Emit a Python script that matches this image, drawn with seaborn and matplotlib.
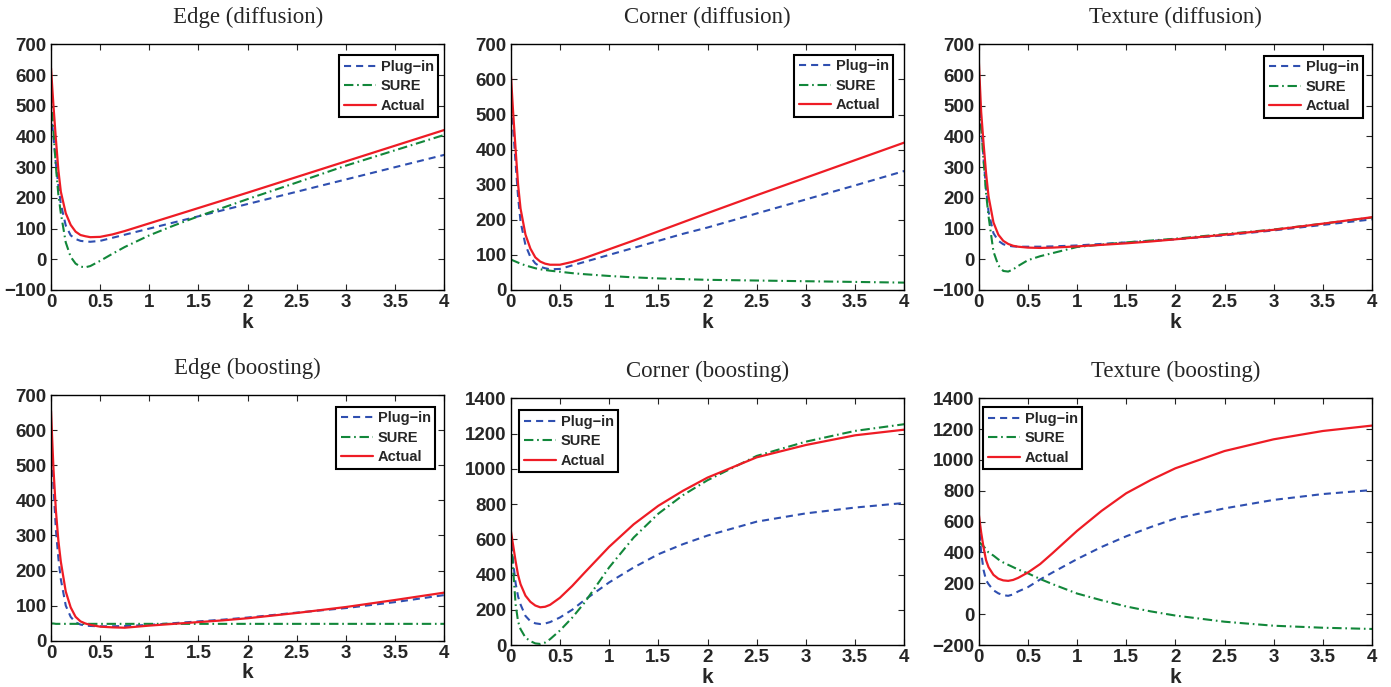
import numpy as np
import pandas as pd
import matplotlib
matplotlib.use("Agg")
import matplotlib.pyplot as plt
import seaborn as sns

sns.set_style("ticks")
plt.rcParams["font.family"] = ["Liberation Sans", "DejaVu Sans"]

# ---------------- data ----------------
k = [0, 0.025, 0.05, 0.075, 0.1, 0.15, 0.2, 0.25, 0.3, 0.35, 0.4, 0.5, 0.625, 0.75,
     1, 1.25, 1.5, 1.75, 2, 2.5, 3, 3.5, 4]

series_names = ["Plug\u2212in", "SURE", "Actual"]

titles = ["Edge (diffusion)", "Corner (diffusion)", "Texture (diffusion)",
          "Edge (boosting)", "Corner (boosting)", "Texture (boosting)"]

edge_diff_plugin = [480, 400, 310, 240, 180, 110, 78, 66, 60, 58, 57, 60, 70, 80, 100, 120, 140, 160, 180, 220, 260, 300, 340]
edge_diff_sure = [540, 420, 300, 210, 150, 55, 8, -14, -24, -26, -22, -5, 18, 40, 78, 110, 140, 168, 196, 250, 305, 355, 405]
edge_diff_actual = [622, 500, 390, 290, 220, 150, 112, 90, 79, 75, 72, 73, 81, 92, 117, 142, 167, 192, 217, 268, 319, 370, 421]

corner_diff_plugin = [560, 460, 360, 265, 195, 128, 94, 76, 66, 62, 59, 60, 70, 80, 100, 120, 140, 160, 178, 218, 258, 298, 339]
corner_diff_sure = [87, 84, 81, 78, 75, 70, 66, 62, 59, 57, 55, 52, 48, 45, 40, 36, 33, 31, 29, 27, 25, 23, 21]
corner_diff_actual = [622, 505, 400, 300, 232, 158, 118, 93, 81, 75, 72, 72, 80, 91, 116, 141, 167, 193, 219, 270, 320, 370, 420]

texture_diff_plugin = [600, 440, 325, 230, 155, 85, 60, 49, 44, 42, 41, 41, 41, 42, 45, 50, 55, 60, 65, 78, 94, 112, 130]
texture_diff_sure = [560, 430, 320, 215, 140, 25, -20, -38, -40, -33, -22, -3, 10, 20, 40, 48, 55, 61, 67, 82, 97, 116, 136]
texture_diff_actual = [654, 480, 375, 280, 205, 120, 80, 60, 50, 44, 41, 38, 37, 38, 42, 47, 52, 58, 65, 80, 96, 116, 137]

edge_boost_plugin = [590, 440, 315, 235, 175, 100, 68, 52, 46, 43, 42, 41, 41, 42, 45, 50, 55, 60, 66, 80, 93, 110, 130]
edge_boost_sure = [49, 49, 48, 48, 48, 48, 48, 48, 48, 48, 48, 48, 48, 48, 48, 48, 48, 48, 48, 48, 48, 48, 48]
edge_boost_actual = [655, 490, 370, 285, 225, 140, 95, 68, 55, 49, 45, 40, 38, 37, 43, 48, 53, 58, 64, 79, 96, 116, 137]

corner_boost_plugin = [640, 470, 350, 275, 230, 165, 135, 123, 119, 122, 130, 156, 200, 255, 355, 440, 515, 572, 621, 700, 747, 780, 806]
corner_boost_sure = [620, 430, 230, 133, 90, 42, 22, 9, 6, 14, 33, 82, 155, 240, 440, 610, 745, 850, 935, 1073, 1154, 1215, 1253]
corner_boost_actual = [653, 565, 475, 397, 345, 280, 245, 224, 214, 217, 228, 268, 335, 410, 557, 685, 790, 875, 950, 1065, 1135, 1190, 1222]

texture_boost_plugin = [600, 400, 285, 220, 195, 155, 135, 123, 119, 128, 147, 175, 225, 270, 357, 436, 505, 565, 620, 686, 741, 779, 805]
texture_boost_sure = [470, 455, 440, 420, 400, 380, 355, 335, 320, 305, 290, 265, 228, 195, 134, 90, 50, 18, -9, -49, -75, -88, -96]
texture_boost_actual = [653, 530, 430, 350, 305, 255, 230, 219, 216, 222, 235, 270, 325, 395, 540, 670, 784, 870, 946, 1058, 1134, 1188, 1223]

panels = [
    (edge_diff_plugin, edge_diff_sure, edge_diff_actual),
    (corner_diff_plugin, corner_diff_sure, corner_diff_actual),
    (texture_diff_plugin, texture_diff_sure, texture_diff_actual),
    (edge_boost_plugin, edge_boost_sure, edge_boost_actual),
    (corner_boost_plugin, corner_boost_sure, corner_boost_actual),
    (texture_boost_plugin, texture_boost_sure, texture_boost_actual),
]

ylims = [(-100, 700, 100), (0, 700, 100), (-100, 700, 100),
         (0, 700, 100), (0, 1400, 200), (-200, 1400, 200)]
xticks = [0, 0.5, 1, 1.5, 2, 2.5, 3, 3.5, 4]
xticklabels = ["0", "0.5", "1", "1.5", "2", "2.5", "3", "3.5", "4"]

# ---------------- style ----------------
colors = ["#2f4fb0", "#12873a", "#ee1c25"]
styles = [(0, (3.4, 2.4)), (0, (4.5, 1.8, 0.8, 1.8)), "-"]
lws = [1.5, 1.5, 1.6]

W, H = 1391, 687
fig = plt.figure(figsize=(W / 100, H / 100), dpi=100)

# axes boxes in pixels: left, top, right, bottom
boxes = [
    (51, 44.3, 444.3, 290),
    (510.7, 44.3, 904.3, 290),
    (978.7, 44.3, 1372, 290),
    (51, 395, 444.3, 640.7),
    (510.7, 398.3, 904.3, 645),
    (978.7, 398.3, 1372, 645),
]
# legend placement: (loc, x inset px, y inset px)
legpos = [("upper right", 6, 11), ("upper right", 11, 10.7), ("upper right", 8.7, 11.4),
          ("upper right", 9, 11.7), ("upper left", 8.6, 12), ("upper left", 4.6, 9)]

for i, (vals, title, (y0, y1, ys)) in enumerate(zip(panels, titles, ylims)):
    l, t, r, b = boxes[i]
    ax = fig.add_axes([l / W, 1 - b / H, (r - l) / W, (b - t) / H])
    for j, name in enumerate(series_names):
        sns.lineplot(x=k, y=vals[j], ax=ax, color=colors[j], linestyle=styles[j],
                     linewidth=lws[j], label=name, legend=False)
    ax.set_xlim(0, 4)
    ax.set_ylim(y0, y1)
    ax.set_xticks(xticks)
    ax.set_xticklabels(xticklabels)
    ax.set_yticks(np.arange(y0, y1 + 1, ys))
    ax.tick_params(direction="in", top=True, right=True, length=4, width=0.8,
                   pad=3, labelsize=13.5)
    for lab in ax.get_xticklabels() + ax.get_yticklabels():
        lab.set_fontweight("bold")
    for sp in ax.spines.values():
        sp.set_visible(True)
        sp.set_linewidth(1.0)
        sp.set_color("black")
    ax.set_xlabel("k", fontsize=15, fontweight="bold", labelpad=1)
    ax.set_ylabel("")
    ax.set_title(title, fontsize=16.5, family=["Liberation Serif", "DejaVu Serif"], pad=15)

    loc, dx, dy = legpos[i]
    w_ax = r - l
    h_ax = b - t
    if loc == "upper right":
        anchor = (1 - dx / w_ax, 1 - dy / h_ax)
    else:
        anchor = (dx / w_ax, 1 - dy / h_ax)
    leg = ax.legend(loc=loc, bbox_to_anchor=anchor, borderaxespad=0,
                    prop={"weight": "bold", "size": 10.5}, frameon=True,
                    fancybox=False, edgecolor="black", framealpha=1,
                    handlelength=2.2, handletextpad=0.35, labelspacing=0.38,
                    borderpad=0.3)
    leg.get_frame().set_linewidth(1.5)

fig.savefig("out.png", dpi=100)
